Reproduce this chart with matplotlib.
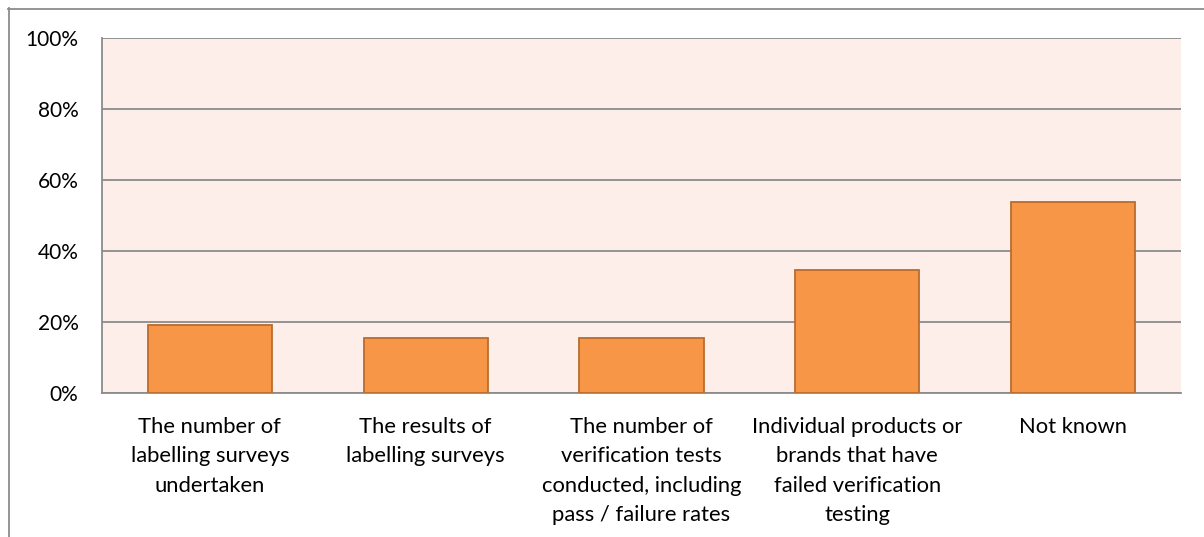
import matplotlib
matplotlib.use("Agg")
import matplotlib.pyplot as plt
from matplotlib.lines import Line2D
from matplotlib.ticker import PercentFormatter

categories = [
    "The number of\nlabelling surveys\nundertaken",
    "The results of\nlabelling surveys",
    "The number of\nverification tests\nconducted, including\npass / failure rates",
    "Individual products or\nbrands that have\nfailed verification\ntesting",
    "Not known",
]
values = [19.2, 15.4, 15.4, 34.6, 53.8]
y_ticks = [0, 20, 40, 60, 80, 100]

plt.rcParams["font.family"] = ["Lato", "DejaVu Sans"]

fig = plt.figure(figsize=(12.04, 5.37), dpi=100)
ax = fig.add_axes([102 / 1204, 1 - 393 / 537, 1079 / 1204, 355 / 537])
ax.set_facecolor("#FDEEE9")

x = list(range(len(categories)))
ax.bar(x, values, width=0.575, color="#F79646", edgecolor="#B96D2E",
       linewidth=1.3, zorder=3)

ax.set_xlim(-0.5, len(categories) - 0.5)
ax.set_ylim(0, 100)
ax.set_yticks(y_ticks)
ax.yaxis.set_major_formatter(PercentFormatter(decimals=0))
ax.grid(axis="y", color="#8C8C8C", linewidth=1.3, zorder=1)
ax.set_axisbelow(True)

for side in ["right", "top"]:
    ax.spines[side].set_visible(False)
for side in ["left", "bottom"]:
    ax.spines[side].set_color("#8C8C8C")
    ax.spines[side].set_linewidth(1.3)

ax.set_xticks(x)
ax.set_xticklabels(categories, fontsize=15.8, linespacing=1.6, va="top")
ax.tick_params(axis="x", length=0, pad=17, colors="#000000")
ax.tick_params(axis="y", length=0, pad=17, labelsize=15, colors="#000000")

# outer chart frame (top and left edges)
fig.add_artist(Line2D([8 / 1204, 1.0], [1 - 8.5 / 537, 1 - 8.5 / 537],
                      transform=fig.transFigure, color="#8C8C8C", linewidth=1.3))
fig.add_artist(Line2D([8.5 / 1204, 8.5 / 1204], [0, 1 - 8 / 537],
                      transform=fig.transFigure, color="#8C8C8C", linewidth=1.3))

fig.savefig("out.png", dpi=100, facecolor="white")
